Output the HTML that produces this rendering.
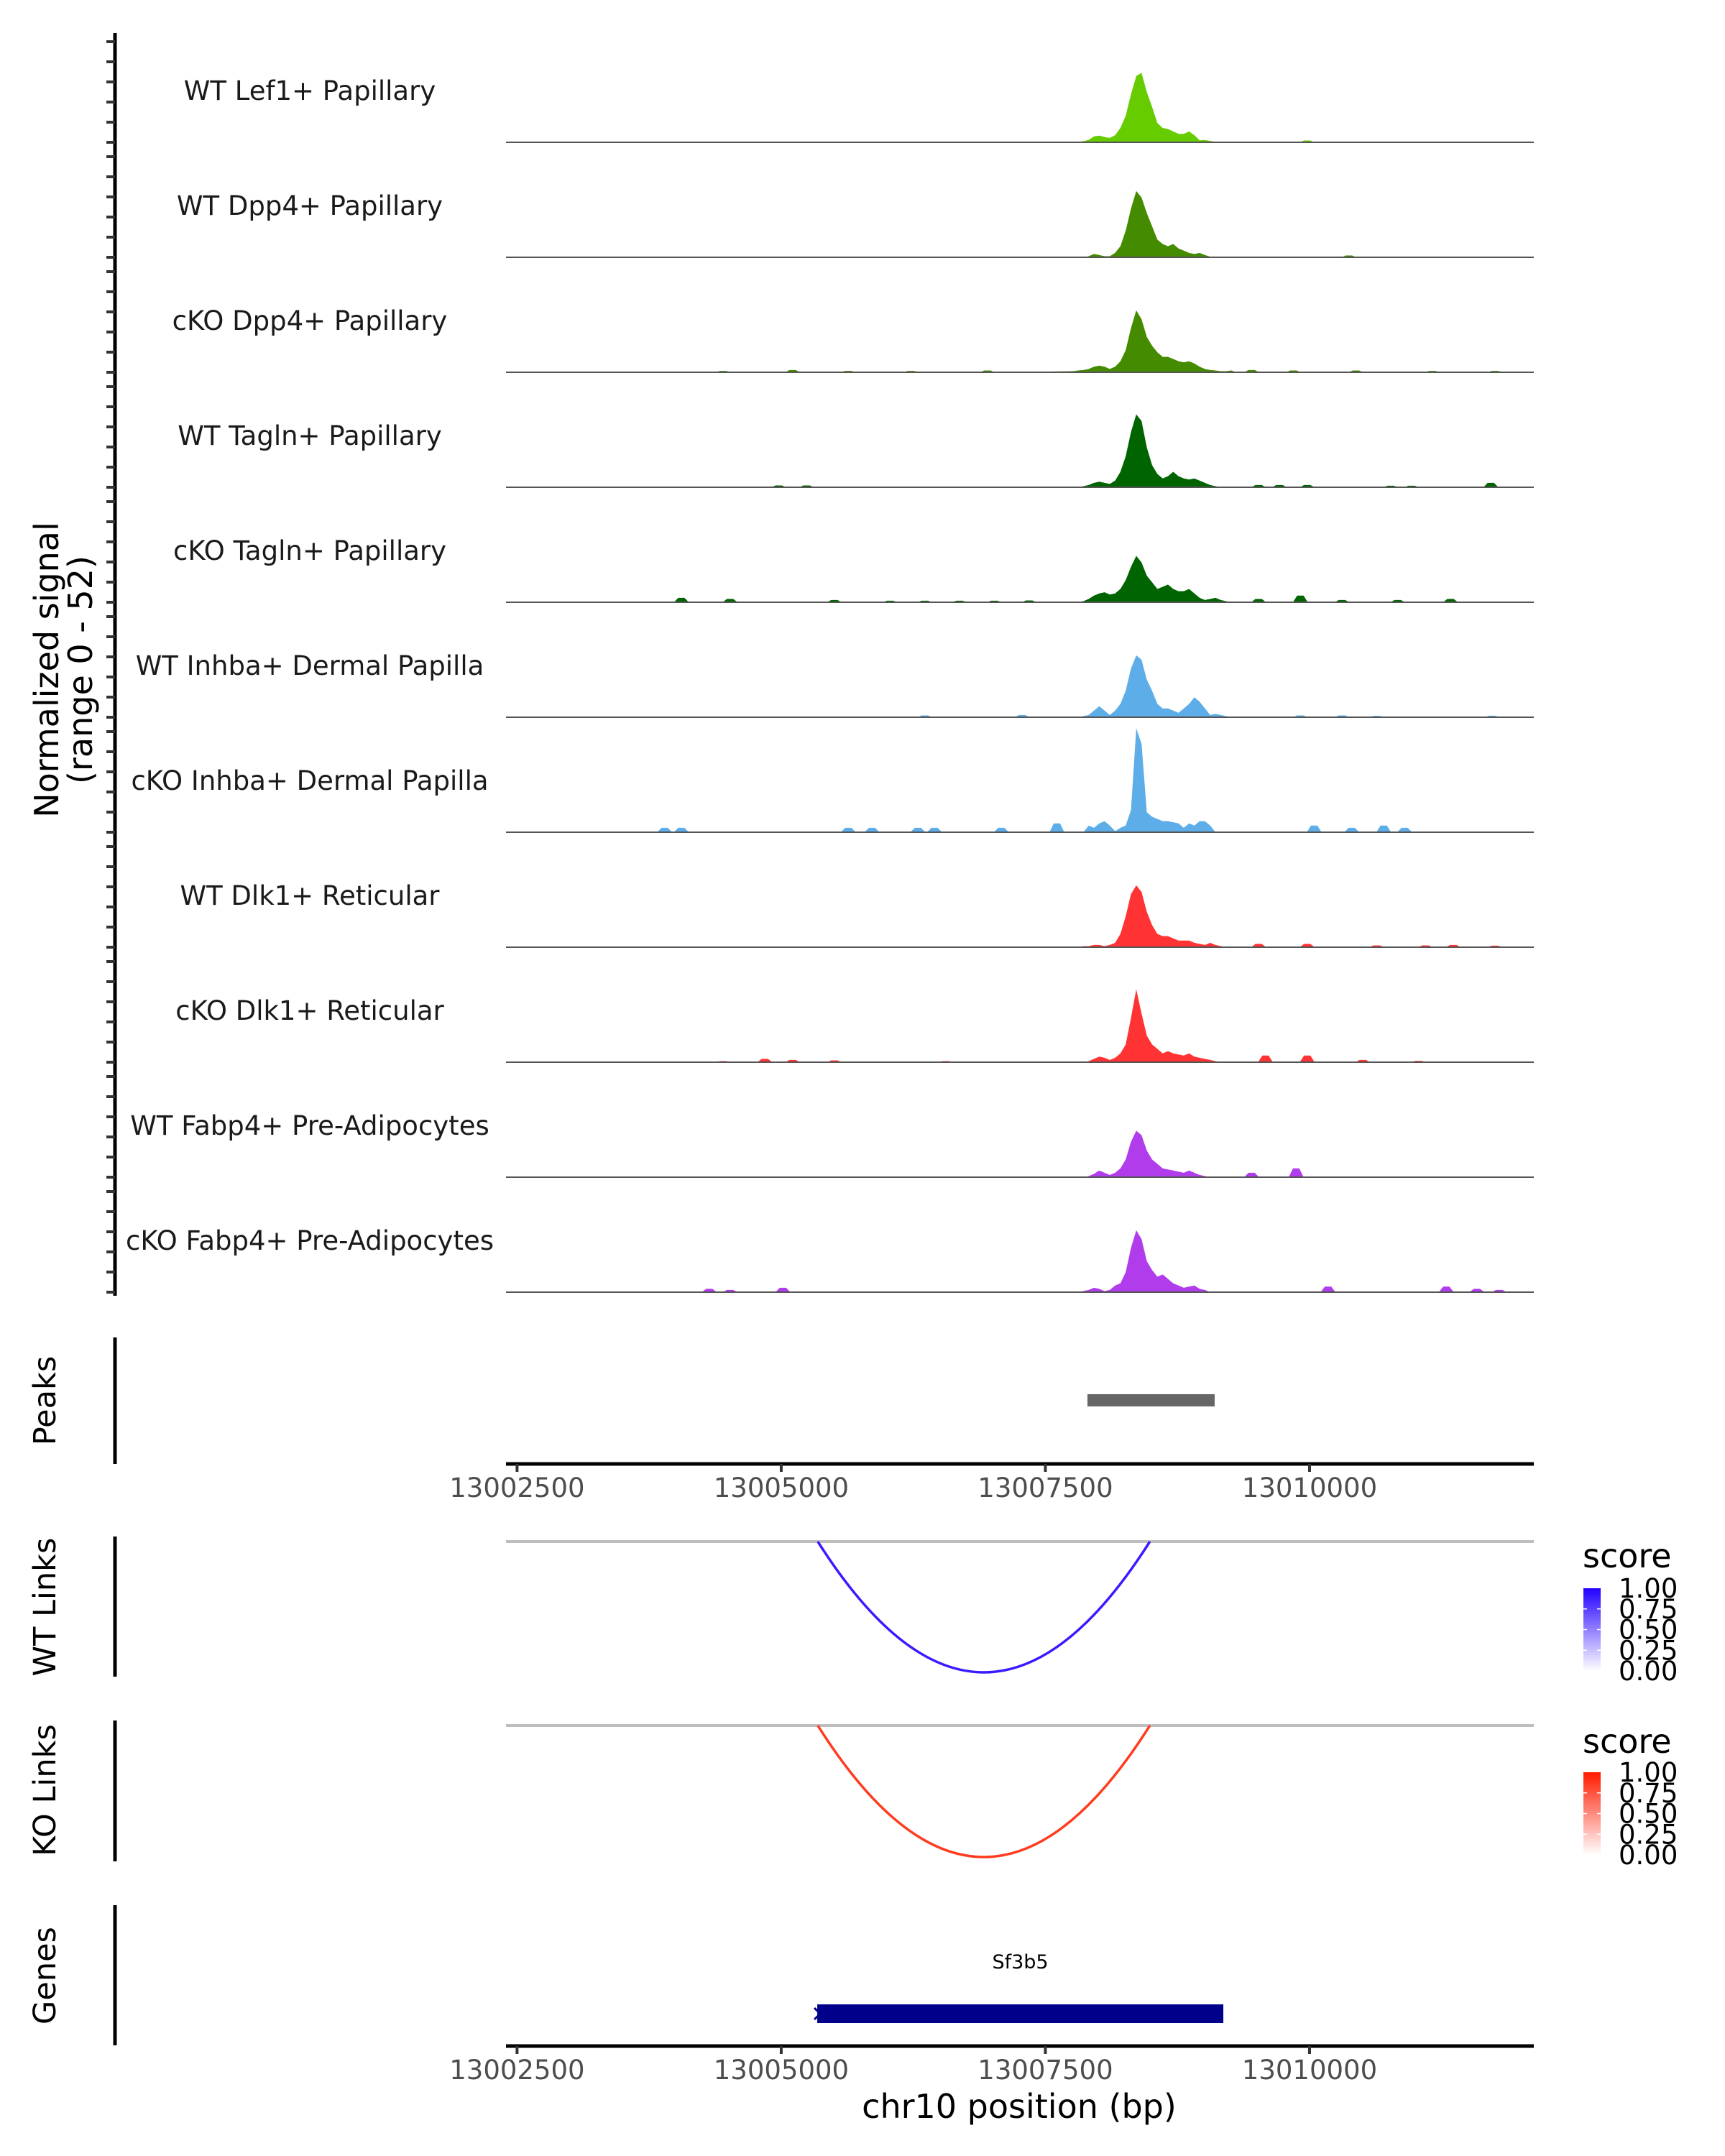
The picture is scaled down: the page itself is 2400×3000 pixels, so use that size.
<!DOCTYPE html>
<html><head><meta charset="utf-8"><style>html,body{margin:0;padding:0;background:#fff}svg{display:block}</style></head>
<body>
<svg id="chart" xmlns="http://www.w3.org/2000/svg" width="2400" height="3000" viewBox="0 0 2400 3000" font-family="'DejaVu Sans','Liberation Sans',sans-serif">
<rect width="2400" height="3000" fill="#fff"/>
<g id="g-axes"></g>
<g id="g-tracks"></g>
<text transform="translate(81,932) rotate(-90)" text-anchor="middle" font-size="46" fill="#000">Normalized signal</text>
<text transform="translate(128,932) rotate(-90)" text-anchor="middle" font-size="46" fill="#000">(range 0 - 52)</text>
<text transform="translate(77,1949) rotate(-90)" text-anchor="middle" font-size="43">Peaks</text>
<text transform="translate(77,2236) rotate(-90)" text-anchor="middle" font-size="43">WT Links</text>
<text transform="translate(77,2491) rotate(-90)" text-anchor="middle" font-size="43">KO Links</text>
<text transform="translate(77,2749) rotate(-90)" text-anchor="middle" font-size="43">Genes</text>
<line x1="160" y1="1861" x2="160" y2="2037" stroke="#000" stroke-width="5"/>
<line x1="160" y1="2138" x2="160" y2="2333" stroke="#000" stroke-width="5"/>
<line x1="160" y1="2394" x2="160" y2="2590" stroke="#000" stroke-width="5"/>
<line x1="160" y1="2651" x2="160" y2="2846" stroke="#000" stroke-width="5"/>
<g id="g-legend-wt">
<defs>
<linearGradient id="gb" x1="0" y1="1" x2="0" y2="0"><stop offset="0" stop-color="#ffffff"/><stop offset="1" stop-color="#2200ff"/></linearGradient>
<linearGradient id="gr" x1="0" y1="1" x2="0" y2="0"><stop offset="0" stop-color="#ffffff"/><stop offset="1" stop-color="#ff1a00"/></linearGradient>
</defs>
<text x="2202" y="2181" font-size="46">score</text>
<rect x="2203" y="2210" width="24" height="115" fill="url(#gb)"/>
</g>
<g id="g-legend-ko">
<text x="2202" y="2439" font-size="46">score</text>
<rect x="2203" y="2466" width="24" height="115" fill="url(#gr)"/>
</g>
<text x="1418" y="2947" text-anchor="middle" font-size="46">chr10 position (bp)</text>
</svg>
<script>
const trackNames = ["WT Lef1+ Papillary","WT Dpp4+ Papillary","cKO Dpp4+ Papillary","WT Tagln+ Papillary","cKO Tagln+ Papillary","WT Inhba+ Dermal Papilla","cKO Inhba+ Dermal Papilla","WT Dlk1+ Reticular","cKO Dlk1+ Reticular","WT Fabp4+ Pre-Adipocytes","cKO Fabp4+ Pre-Adipocytes"];
const trackColors = ["#66cc00","#448b00","#448b00","#006400","#006400","#5dade8","#5dade8","#ff3333","#ff3333","#b03cec","#b03cec"];
const binStart = 13007760;
const binSize = 50;
const sigLef1 = [0,0.2,0.5,1.1,2.7,3,2.4,2,3.2,6.5,12,21.7,30,31.4,22.7,16,8.7,6.5,6,4.9,3.8,3.8,4.9,3.2,0.9,1,0.6,0.2,0,0,0,0];
const sigWtDpp4 = [0,0,0,0.5,1.5,1,0.5,0.5,2,5,12,22,30,27,20,14,8,6,5,6,4,3,2,1.5,2,1,0.3,0,0,0,0,0];
const sigKoDpp4 = [0.5,0.8,1,1.5,2.5,3,2.5,1.5,2.5,5,10,20,28,24,16,12,9,7,7,6,5,4.5,5,4,2.5,1.5,1,0.8,0.5,0.5,0.8,0];
const sigWtTagln = [0,0,0.5,1,2,2.5,2,1.5,3,7,14,25,33,30,18,10,6,4,5,7,5,4,3.5,4,3,2,1,0.5,0,0,0,0];
const sigKoTagln = [0,0,0.5,1.5,3,4,4.5,3.5,4,6,10,16,21,18,12,9,6,7,8,6,5,5,6,4,2,1,1.5,2,1,0.5,0,0];
const sigWtInhba = [0,0,0.5,1,3,5,3,1,3,6,12,22,28,26,17,12,6,4,4,3,2,4,6,9,7,4,1,1.5,1,0.5,0,0];
const sigKoInhba = [0,0,0,3,2,4,5,3,0.5,2,3,10,47,40,9,7,6,5,5,4.5,4,2,4,3,5,5,3,0,0,0,0,0];
const sigWtDlk1 = [0,0,0.5,0.5,1,1,0.5,1,2,6,14,24,28,25,16,10,6,5,5,4,3,3,3,2,1.5,1,2,1,0.5,0,0,0];
const sigKoDlk1 = [0,0,0,0.5,1.5,2.5,2,1,2,4,8,20,33,22,12,8,6,4,5,4,3.5,3,4,2.5,2,1.5,1,0.5,0,0,0,0];
const sigWtFabp4 = [0,0,0,0.5,1.5,3,2,1,2,4,8,16,21,19,12,8,6,4,3.5,3,2.5,2,3,2,1,0.5,0,0,0,0,0,0];
const sigKoFabp4 = [0,0,0.5,1,2,1.5,0.5,1,3,4,9,20,28,24,14,10,7,8,6,4,3,2,2.5,3,1.5,1,0,0,0,0,0,0];
const mainSignals = [sigLef1,sigWtDpp4,sigKoDpp4,sigWtTagln,sigKoTagln,sigWtInhba,sigKoInhba,sigWtDlk1,sigKoDlk1,sigWtFabp4,sigKoFabp4];
const blipPos = [
 [13009978],
 [13010373],
 [13004450,13005108,13005635,13006227,13006951,13009452,13009847,13010439,13011163,13011755],
 [13004977,13005240,13009518,13009715,13009978,13010768,13010966,13011716],
 [13004055,13004516,13005503,13006030,13006359,13006688,13007017,13007346,13009518,13009913,13010307,13010834,13011334],
 [13006359,13007280,13009913,13010307,13010636,13011729],
 [13003897,13004055,13005635,13005859,13006293,13006451,13007083,13007609,13010044,13010399,13010702,13010900],
 [13009518,13009978,13010636,13011097,13011360,13011755],
 [13004450,13004845,13005108,13005503,13006556,13009583,13009978,13010504,13011031],
 [13009452,13009873],
 [13004319,13004516,13005016,13010175,13011294,13011584,13011795]
];
const blipVal = [
 [0.8],
 [0.8],
 [0.6,1,0.6,0.6,0.8,1,0.8,0.8,0.6,0.6],
 [0.8,0.8,1,1,1,0.7,0.7,2],
 [2,1.5,1,0.7,0.7,0.7,0.7,0.8,1.5,3,1,1,1.5],
 [0.8,1,0.8,0.8,0.6,0.7],
 [2,2,2,2,2,2,2,4,3,2,3,2],
 [1.5,1.5,0.8,0.8,1,0.7],
 [0.5,1.5,1,0.8,0.5,3,3,1,0.6],
 [2,4],
 [1.5,1,2,2.5,2.5,1.5,1]
];
const xTicks = [13002500,13005000,13007500,13010000];
const peakStarts = [13007898];
const peakEnds = [13009102];
const geneName = "Sf3b5";
const geneStart = 13005341;
const geneEnd = 13009184;
const linkStart = 13005346;
const linkEnd = 13008489;
const legendTicks = ["1.00","0.75","0.50","0.25","0.00"];
const yMax = 52;

const NS = "http://www.w3.org/2000/svg";
const X0 = 704, X1 = 2134;
function xs(bp){ return 719.4 + (bp - 13002500) * 0.14701; }
const bpMin = 13002500 + (X0 - 719.4) / 0.14701;
const bpMax = 13002500 + (X1 - 719.4) / 0.14701;
function mk(tag, attrs, parent){ const e = document.createElementNS(NS, tag); for (const k in attrs) e.setAttribute(k, attrs[k]); parent.appendChild(e); return e; }
const svg = document.getElementById('chart');
const gT = document.getElementById('g-tracks');
const gA = document.getElementById('g-axes');

let ax = mk('line', {x1:160,y1:46,x2:160,y2:1803,stroke:'#000','stroke-width':5}, gA);



const H = 160;
trackNames.forEach((name, t) => {
  const base = 198 + H * t;
  const ys = v => base - v / yMax * H;
  const g = mk('g', {}, gT);
  
  
  for (let k = 0; k < 6; k++) {
    const ty = base - 140 + 28 * k;
    const tk = mk('line', {x1:148,y1:ty,x2:160,y2:ty,stroke:'#333','stroke-width':4}, gA);
    
    
  }
  const pts = [];
  mainSignals[t].forEach((v, i) => pts.push([binStart + binSize * i, v]));
  blipPos[t].forEach((p, i) => {
    const h = blipVal[t][i];
    pts.push([p - 70, 0]); pts.push([p - 30, h]); pts.push([p + 30, h]); pts.push([p + 70, 0]);
  });
  pts.sort((a, b) => a[0] - b[0]);
  let d = 'M' + X0 + ',' + base;
  pts.forEach(p => { if (p[0] >= bpMin && p[0] <= bpMax) d += ' L' + xs(p[0]).toFixed(2) + ',' + ys(p[1]).toFixed(2); });
  d += ' L' + X1 + ',' + base + ' Z';
  const area = mk('path', {d:d, fill:trackColors[t]}, g);
  
  
  const bl = mk('line', {x1:X0,y1:base,x2:X1,y2:base,stroke:'#555','stroke-width':2}, g);
  
  
  const lb = mk('text', {x:431,y:base - 59,'text-anchor':'middle','font-size':37,fill:'#1a1a1a'}, g);
  lb.textContent = name;
  
  
});

peakStarts.forEach((s, i) => {
  const r = mk('rect', {x:xs(s),y:1940,width:xs(peakEnds[i]) - xs(s),height:17,fill:'#666'}, svg);
  
  
});

function xAxis(y, nm){
  const l = mk('line', {x1:X0,y1:y,x2:X1,y2:y,stroke:'#000','stroke-width':5}, svg);
  
  
  xTicks.forEach(v => {
    const x = xs(v);
    const tk = mk('line', {x1:x,y1:y,x2:x,y2:y + 11,stroke:'#333','stroke-width':4}, svg);
    
    
    const tx = mk('text', {x:x,y:y + 46,'text-anchor':'middle','font-size':37,fill:'#4d4d4d'}, svg);
    tx.textContent = v;
    
    
  });
}
xAxis(2037, 'peaks-x-axis');
xAxis(2847, 'genes-x-axis');

function links(yTop, yBot, color, nm){
  const gl = mk('line', {x1:X0,y1:yTop,x2:X1,y2:yTop,stroke:'#bebebe','stroke-width':4}, svg);
  
  
  const a = xs(linkStart), b = xs(linkEnd);
  const arc = mk('path', {d:'M' + a + ',' + yTop + ' Q' + ((a + b) / 2) + ',' + (2 * yBot - yTop) + ' ' + b + ',' + yTop, fill:'none', stroke:color, 'stroke-width':3.5}, svg);
  
  
}
links(2145, 2327, '#3a1aff', 'wt-link');
links(2401, 2584, '#ff3c1f', 'ko-link');

function legendLabels(top, bottom, nm){
  legendTicks.forEach((t, i) => {
    const y = top + (bottom - top) * i / (legendTicks.length - 1);
    const tx = mk('text', {x:2252,y:y + 13,'font-size':37,fill:'#000'}, svg);
    tx.textContent = t;
    
    
    if (i > 0 && i < legendTicks.length - 1) {
      const m1 = mk('line', {x1:2203,y1:y,x2:2208,y2:y,stroke:'#fff','stroke-width':1.5}, svg);
      
      
      const m2 = mk('line', {x1:2222,y1:y,x2:2227,y2:y,stroke:'#fff','stroke-width':1.5}, svg);
      
      
    }
  });
}
legendLabels(2210, 2325, 'wt-legend');
legendLabels(2466, 2581, 'ko-legend');

const gx0 = xs(geneStart), gx1 = xs(geneEnd);
const gb = mk('rect', {x:gx0,y:2789,width:gx1 - gx0,height:26,fill:'#00008b'}, svg);


const ga = mk('path', {d:'M' + (gx0 - 4) + ',2794 L' + (gx0 + 4) + ',2802 L' + (gx0 - 4) + ',2810', fill:'none', stroke:'#00008b','stroke-width':3}, svg);


const gn = mk('text', {x:(gx0 + gx1) / 2,y:2739,'text-anchor':'middle','font-size':27,fill:'#000'}, svg);
gn.textContent = geneName;


</script>
</body></html>
